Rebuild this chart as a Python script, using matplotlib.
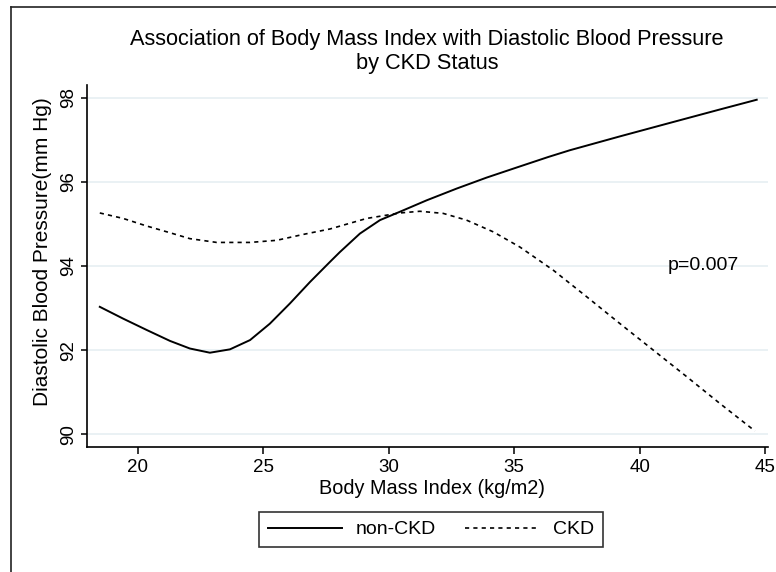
import matplotlib
matplotlib.use("Agg")
import matplotlib.pyplot as plt
from matplotlib.lines import Line2D

plt.rcParams["font.family"] = ["Liberation Sans", "DejaVu Sans"]

# BMI (kg/m2) and predicted diastolic BP (mm Hg)
bmi_non_ckd = [18.48, 19.41, 20.35, 21.28, 22.07, 22.87, 23.67, 24.47, 25.26,
               26.06, 26.86, 27.66, 28.05, 28.85, 29.65, 30.45, 31.51, 32.71,
               33.9, 35.1, 36.36, 37.22, 39.22, 41.21, 43.21, 44.67]
dbp_non_ckd = [93.03, 92.75, 92.48, 92.22, 92.04, 91.94, 92.02, 92.24, 92.63,
               93.11, 93.62, 94.1, 94.33, 94.77, 95.09, 95.29, 95.56, 95.84,
               96.1, 96.34, 96.59, 96.75, 97.08, 97.4, 97.72, 97.95]

bmi_ckd = [18.48, 19.41, 20.35, 21.28, 22.07, 23.14, 24.47, 25.53, 26.59,
           27.66, 29.12, 30.45, 31.24, 32.17, 33.1, 34.17, 35.23, 36.56,
           37.89, 39.22, 40.55, 41.88, 43.21, 44.6]
dbp_ckd = [95.26, 95.13, 94.95, 94.79, 94.65, 94.56, 94.56, 94.61, 94.75,
           94.88, 95.13, 95.26, 95.3, 95.25, 95.09, 94.81, 94.45, 93.9,
           93.27, 92.63, 92.0, 91.37, 90.73, 90.08]

x_ticks = [20, 25, 30, 35, 40, 45]
y_ticks = [90, 92, 94, 96, 98]

W, H = 776, 572
fig = plt.figure(figsize=(W / 100, H / 100), dpi=100)
ax = fig.add_axes([87 / W, 1 - 447 / H, (768 - 87) / W, (447 - 85) / H])

ax.plot(bmi_non_ckd, dbp_non_ckd, color="black", lw=1.4, label="non-CKD")
ax.plot(bmi_ckd, dbp_ckd, color="black", lw=1.2, linestyle=(0, (2.5, 2.5)),
        label="CKD")

ax.set_xlim(17.97, 45.12)
ax.set_ylim(89.7, 98.3)
ax.set_xticks(x_ticks)
ax.set_yticks(y_ticks)
ax.grid(axis="y", color="#e6eff2", lw=1.2)
ax.set_axisbelow(True)
for side in ("top", "right"):
    ax.spines[side].set_visible(False)
ax.spines["left"].set_linewidth(1.2)
ax.spines["bottom"].set_linewidth(1.2)
ax.tick_params(axis="x", direction="out", length=5, width=1.1,
               labelsize=13.5, pad=4)
ax.tick_params(axis="y", direction="out", length=4, width=1.1,
               labelsize=13.5, pad=3)
for lbl in ax.get_yticklabels():
    lbl.set_rotation(90)
    lbl.set_va("center")

ax.text(41.13, 94, "p=0.007", fontsize=14, ha="left", va="center")

# titles and axis labels placed in pixel positions
fig.text(427 / W, 1 - 39 / H, "Association of Body Mass Index with Diastolic Blood Pressure",
         ha="center", va="center", fontsize=15.7)
fig.text(427 / W, 1 - 64 / H, "by CKD Status", ha="center", va="center", fontsize=15.7)
fig.text(432 / W, 1 - 489 / H, "Body Mass Index (kg/m2)", ha="center",
         va="center", fontsize=14.3)
fig.text(43 / W, 1 - 252 / H, "Diastolic Blood Pressure(mm Hg)", ha="center",
         va="center", rotation=90, fontsize=15)

leg = fig.legend(loc="center", bbox_to_anchor=(431 / W, 1 - 529.5 / H),
                 ncol=2, fontsize=14, frameon=True, fancybox=False,
                 edgecolor="black", handlelength=3.8, columnspacing=1.5,
                 borderpad=0.45, handletextpad=0.7)
leg.get_frame().set_linewidth(1.2)

# outer graph border (left and top edges visible)
fig.add_artist(Line2D([11 / W, 11 / W], [0, 1 - 7 / H], color="#222222",
                      lw=1.2, transform=fig.transFigure))
fig.add_artist(Line2D([11 / W, 1], [1 - 7 / H, 1 - 7 / H], color="#222222",
                      lw=1.2, transform=fig.transFigure))

fig.savefig("out.png", dpi=100)
